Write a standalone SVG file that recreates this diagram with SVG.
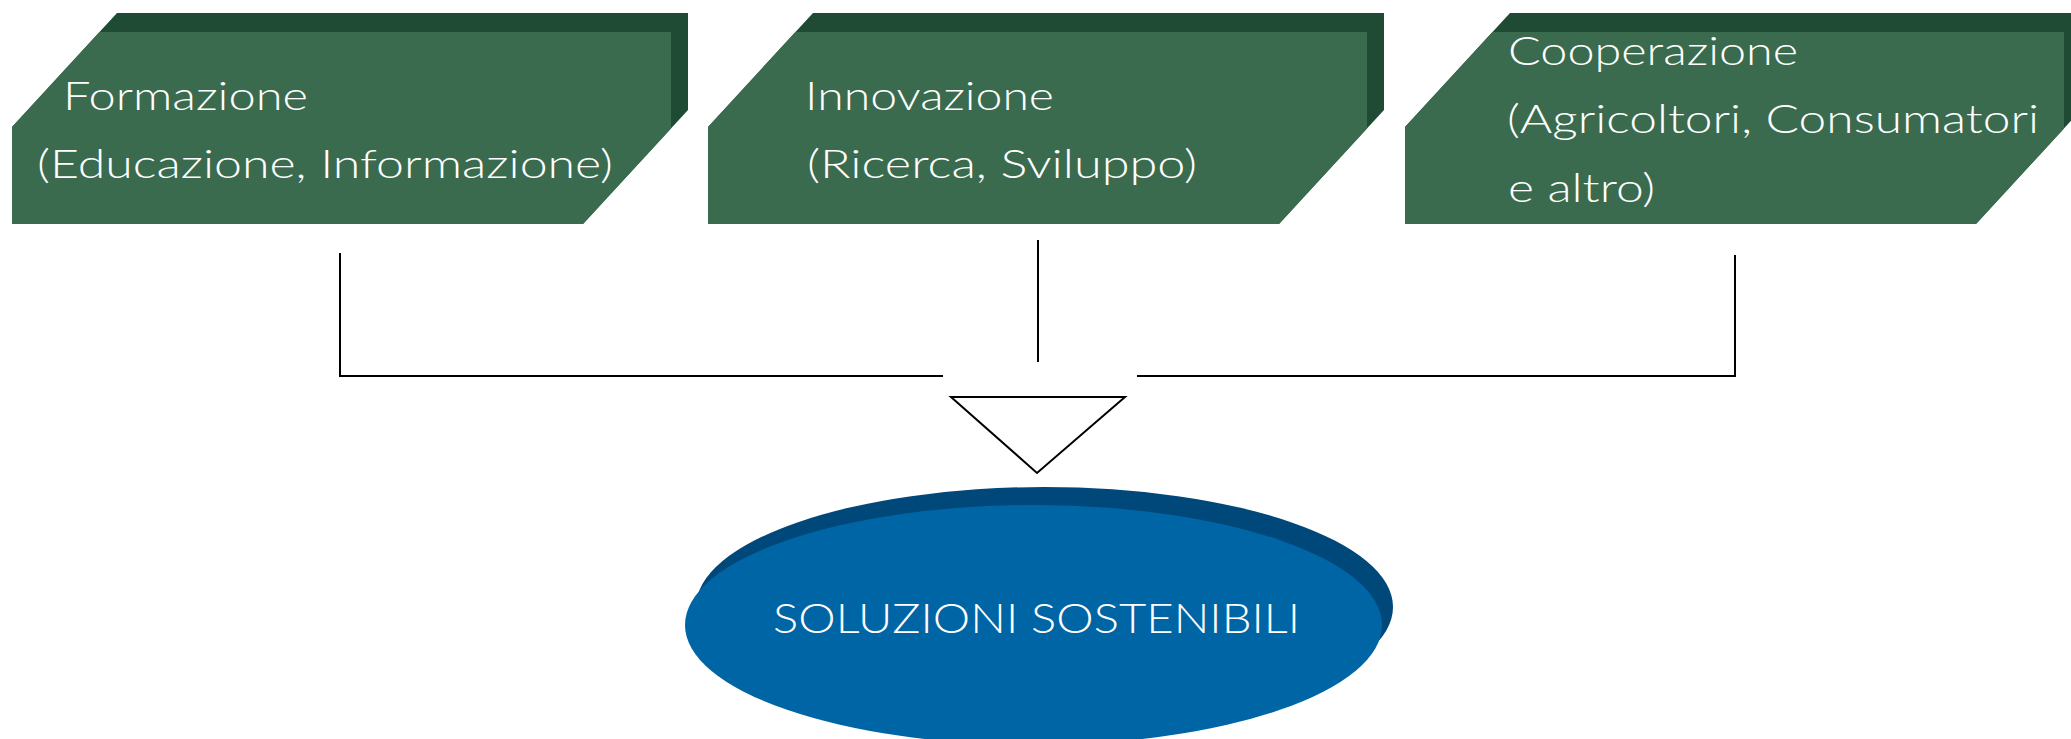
<svg xmlns="http://www.w3.org/2000/svg" width="2071" height="739" viewBox="0 0 2071 739">
<style>
.back{fill:#1f4a33}
.front{fill:#3a6b4f}
.lbl{fill:#ffffff;font-family:Lato,"Open Sans",sans-serif;font-size:40px;font-weight:300}
.conn{fill:none;stroke:#000000;stroke-width:2}
</style>
<rect x="0" y="0" width="2071" height="739" fill="#ffffff"/>
<g id="node-formazione">
<polygon class="back" points="12,127 117,13 688,13 688,110 583,224 12,224"/>
<polygon class="front" points="12,127 99.5,32 671,32 671,128.5 583,224 12,224"/>
<text class="lbl" x="63" y="110" textLength="245" lengthAdjust="spacingAndGlyphs">Formazione</text>
<text class="lbl" x="37" y="178" textLength="576" lengthAdjust="spacingAndGlyphs">(Educazione, Informazione)</text>
</g>
<g id="node-innovazione">
<polygon class="back" points="708,127 813,13 1384,13 1384,110 1279,224 708,224"/>
<polygon class="front" points="708,127 795.5,32 1367,32 1367,128.5 1279,224 708,224"/>
<text class="lbl" x="805" y="110" textLength="249" lengthAdjust="spacingAndGlyphs">Innovazione</text>
<text class="lbl" x="807" y="178" textLength="390" lengthAdjust="spacingAndGlyphs">(Ricerca, Sviluppo)</text>
</g>
<g id="node-cooperazione">
<polygon class="back" points="1405,127 1510,13 2081,13 2081,110 1976,224 1405,224"/>
<polygon class="front" points="1405,127 1492.5,32 2064,32 2064,128.5 1976,224 1405,224"/>
<text class="lbl" x="1508" y="65" textLength="290" lengthAdjust="spacingAndGlyphs">Cooperazione</text>
<text class="lbl" x="1507" y="133" textLength="532" lengthAdjust="spacingAndGlyphs">(Agricoltori, Consumatori</text>
<text class="lbl" x="1508" y="202" textLength="147" lengthAdjust="spacingAndGlyphs">e altro)</text>
</g>
<g id="connectors">
<path class="conn" d="M340,253 V376 H943"/>
<path class="conn" d="M1038,240 V362"/>
<path class="conn" d="M1137,376 H1735 V255"/>
<polygon class="conn" points="951,397 1125,397 1037,473" style="fill:#ffffff"/>
</g>
<g id="node-soluzioni">
<ellipse cx="1044.5" cy="607" rx="348.5" ry="120" fill="#00477a"/>
<ellipse cx="1033.5" cy="625" rx="348.5" ry="120" fill="#0065a5"/>
<text class="lbl" x="773" y="633" style="font-size:42px" textLength="527" lengthAdjust="spacingAndGlyphs">SOLUZIONI SOSTENIBILI</text>
</g>
</svg>
